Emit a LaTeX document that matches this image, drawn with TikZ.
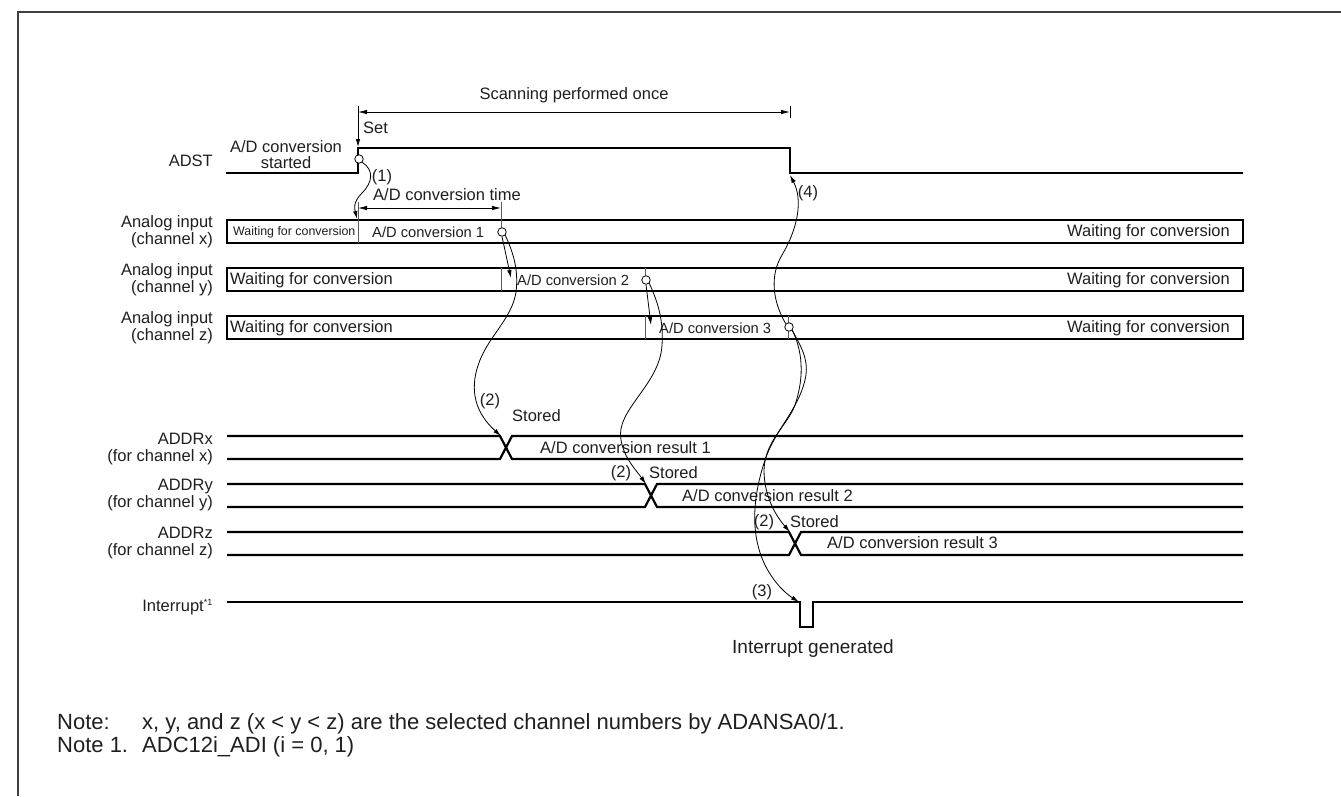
\documentclass[tikz,border=0pt]{standalone}
\usepackage{fontspec}
\setmainfont{Liberation Sans}
\usetikzlibrary{arrows.meta}
\begin{document}
\begin{tikzpicture}[x=1pt,y=-1pt,
  lbl/.style={inner sep=0pt, font=\fontsize{16.5}{17}\selectfont, text=black!88},
  lblr/.style={lbl, align=right, anchor=east},
  lblc/.style={lbl, align=center},
  lbll/.style={lbl, anchor=west},
  notel/.style={inner sep=0pt, font=\fontsize{22}{24}\selectfont, text=black!88, anchor=base west},
  mid/.style={inner sep=0pt, font=\fontsize{14.7}{16}\selectfont, text=black!88, anchor=west},
  tiny/.style={inner sep=0pt, font=\fontsize{12.4}{14}\selectfont, text=black!88, anchor=west},
  sig/.style={line width=2.2pt, line join=miter},
  bx/.style={line width=2pt},
  thinl/.style={line width=0.8pt},
  divl/.style={line width=0.8pt, black!65},
  arr/.style={thinl, -{Latex[length=8pt,width=4.5pt]}},
  dim/.style={thinl, {Latex[length=9pt,width=4.5pt]}-{Latex[length=9pt,width=4.5pt]}},
  endc/.style={circle, draw, thinl, fill=white, minimum size=8.5pt, inner sep=0pt}
]
\path[use as bounding box, fill=white] (0,0) rectangle (1341,796);
% frame
\draw[line width=1.6pt, black!75] (18,796) -- (18,12) -- (1341,12);

% ---------- ADST ----------
\draw[sig] (226,173) -- (358,173) -- (358,148) -- (790,148) -- (790,173) -- (1243,173);
\node[lblr] (adst) at (213,161) {ADST};
\node[lblc] (started) at (286,155) {A/D conversion\\[-1pt]started};
\node[lbll] (set) at (363,128) {Set};
\node[lblc] (scan) at (574,95) {Scanning performed once};
\coordinate (scanL) at (358,112);
\coordinate (scanR) at (790,112);
\draw[dim] (scanL) -- (scanR);
\draw[thinl] (790,106) -- (790,118);
\coordinate (setTop) at (358,106);
\coordinate (setBot) at (358,147);
\draw[arr] (setTop) -- (setBot);

% ---------- Analog inputs ----------
\draw[bx] (227,220) rectangle (1243,243);
\draw[bx] (227,268) rectangle (1243,291);
\draw[bx] (227,316) rectangle (1243,339);
\node[lblr] (lx) at (213,232) {Analog input\\(channel x)};
\node[lblr] (ly) at (213,280) {Analog input\\(channel y)};
\node[lblr] (lz) at (213,328) {Analog input\\(channel z)};

% dividers / ticks
\draw[divl] (358,202) -- (358,243);
\draw[divl] (501,202) -- (501,228);
\draw[divl] (501,268) -- (501,291);
\draw[divl] (645,268) -- (645,276);
\draw[divl] (645,316) -- (645,339);
\draw[divl] (788,316) -- (788,339);

\node[lblc] (convtime) at (447,195) {A/D conversion time};
\coordinate (ctL) at (358,208);
\coordinate (ctR) at (501,208);
\draw[dim] (ctL) -- (ctR);

\node[tiny] (wx) at (233,232) {Waiting for conversion};
\node[mid] (c1) at (372,232) {A/D conversion 1};
\node[lbl, anchor=east] (wxr) at (1230,232) {Waiting for conversion};
\node[lbll] (wy) at (230,280) {Waiting for conversion};
\node[mid] (c2) at (517,280) {A/D conversion 2};
\node[lbl, anchor=east] (wyr) at (1230,280) {Waiting for conversion};
\node[lbll] (wz) at (230,328) {Waiting for conversion};
\node[mid] (c3) at (659,328) {A/D conversion 3};
\node[lbl, anchor=east] (wzr) at (1230,328) {Waiting for conversion};

% end-of-conversion circles
\node[endc] (cA) at (359,159) {};
\node[endc] (cX) at (502,232) {};
\node[endc] (cY) at (646,280) {};
\node[endc] (cZ) at (789,327) {};

% ---------- ADDR registers ----------
\draw[sig] (227,436) -- (500,436) -- (512,459) -- (1243,459);
\draw[sig] (227,459) -- (500,459) -- (512,436) -- (1243,436);
\draw[sig] (227,484) -- (645,484) -- (657,507) -- (1243,507);
\draw[sig] (227,507) -- (645,507) -- (657,484) -- (1243,484);
\draw[sig] (227,532) -- (789,532) -- (801,555) -- (1243,555);
\draw[sig] (227,555) -- (789,555) -- (801,532) -- (1243,532);
\node[lblr] (ax) at (213,449) {ADDRx\\(for channel x)};
\node[lblr] (ay) at (213,495) {ADDRy\\(for channel y)};
\node[lblr] (az) at (213,543) {ADDRz\\(for channel z)};
\node[lbll] (r1) at (540,448) {A/D conversion result 1};
\node[lbll] (r2) at (682,496) {A/D conversion result 2};
\node[lbll] (r3) at (827,543) {A/D conversion result 3};
\node[lbll] (s1) at (512,416) {Stored};
\node[lbll] (s2) at (649,473) {Stored};
\node[lbll] (s3) at (790,522) {Stored};
\node[lbl] (n2a) at (490,401) {(2)};
\node[lbl] (n2b) at (621,473) {(2)};
\node[lbl] (n2c) at (764,522) {(2)};

% ---------- Interrupt ----------
\draw[sig] (227,602) -- (800,602) -- (800,627) -- (813,627) -- (813,602) -- (1243,602);
\node[lblr] (irq) at (213,607) {Interrupt\textsuperscript{\fontsize{9}{9}\selectfont *1}};
\node[inner sep=0pt, font=\fontsize{19}{20}\selectfont, text=black!88] (irqg) at (813,649) {Interrupt generated};
\node[lbl] (n3) at (762,592) {(3)};
\node[lbl] (n4) at (808,193) {(4)};
\node[lbl] (n1) at (382,177) {(1)};

% ---------- arrows ----------
\coordinate (t1) at (357,219);
\draw[arr] (cA.south east) .. controls (374,170) and (373,182) .. (362,193) .. controls (352,203) and (355,210) .. (t1);

\coordinate (tY) at (511,278);
\draw[arr] (cX.south) -- (tY);
\coordinate (tZ) at (651,325);
\draw[arr] (cY.south) -- (tZ);

\coordinate (tAx) at (501,436);
\draw[arr] (cX.south east) .. controls (512,250) and (519,268) .. (516,292)
  .. controls (512,318) and (490,335) .. (480,360)
  .. controls (470,385) and (472,410) .. (tAx);

\coordinate (tAy) at (646,484);
\draw[arr] (cY.south east) .. controls (656,298) and (664,318) .. (662,345)
  .. controls (660,385) and (615,410) .. (621,440)
  .. controls (624,458) and (636,470) .. (tAy);

\coordinate (tAz) at (790,532);
\coordinate (tI) at (799,602);
\coordinate (tS) at (790,175);
\draw[arr] (cZ.south east) .. controls (800,345) and (810,360) .. (805,380)
  .. controls (798,410) and (775,430) .. (765,460)
  .. controls (755,490) and (748,530) .. (765,565)
  .. controls (775,585) and (788,595) .. (tI);
\draw[arr] (cZ.south east) .. controls (802,350) and (805,375) .. (795,405)
  .. controls (788,425) and (765,440) .. (764,470)
  .. controls (764,495) and (775,515) .. (tAz);
\draw[arr] (cZ.north west) .. controls (772,300) and (770,275) .. (782,255)
  .. controls (798,228) and (803,200) .. (tS);

% ---------- notes ----------
\node[notel] (note1) at (57,729) {Note:};
\node[notel] (note1t) at (142,729) {x, y, and z (x {\textless} y {\textless} z) are the selected channel numbers by ADANSA0/1.};
\node[notel] (note2) at (57,752) {Note 1.};
\node[notel] (note2t) at (142,752) {ADC12i\_ADI (i = 0, 1)};
\end{tikzpicture}
\end{document}
